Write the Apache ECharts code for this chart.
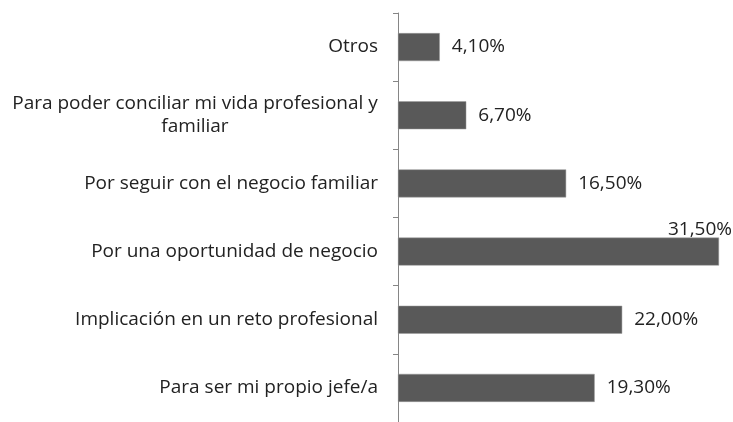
<!DOCTYPE html>
<html>
<head>
<meta charset="utf-8">
<script src="https://cdn.jsdelivr.net/npm/echarts@6/dist/echarts.min.js"></script>
<style>
  html, body { margin: 0; padding: 0; background: #fff; }
  #chart { width: 733px; height: 422px; }
</style>
</head>
<body>
<div id="chart"></div>
<script>
// categories bottom -> top
var categories = [
    'Para ser mi propio jefe/a',
    'Implicación en un reto profesional',
    'Por una oportunidad de negocio',
    'Por seguir con el negocio familiar',
    'Para poder conciliar mi vida profesional y familiar',
    'Otros'
];
var values = [19.3, 22.0, 31.5, 16.5, 6.7, 4.1];

function pct(v) {
    return v.toFixed(2).replace('.', ',') + '%';
}

var chart = echarts.init(document.getElementById('chart'));

var data = values.map(function (v, i) {
    var item = { value: v };
    if (v === 31.5) {
        // this one sits above the bar, against the right edge
        item.label = {
            position: ['100%', 0],
            align: 'right',
            verticalAlign: 'bottom',
            offset: [13, 2]
        };
    }
    return item;
});

var option = {
    animation: false,
    textStyle: { fontFamily: 'Open Sans' },
    grid: {
        left: 398,
        right: 14,
        top: 13,
        height: 412
    },
    xAxis: {
        type: 'value',
        min: 0,
        max: 31.5,
        show: false
    },
    yAxis: {
        type: 'category',
        data: categories,
        axisLine: { show: true, lineStyle: { color: '#868686', width: 1 } },
        axisTick: { show: true, inside: false, length: 5, lineStyle: { color: '#868686', width: 1 } },
        axisLabel: {
            margin: 20,
            fontSize: 19,
            color: '#222',
            fontFamily: 'Open Sans',
            formatter: function (val) {
                if (val.indexOf('conciliar') > 0) {
                    return '{w|Para poder conciliar mi vida profesional y}\n{w|familiar}';
                }
                return val;
            },
            rich: {
                w: { width: 366, align: 'center', fontSize: 19, color: '#222', lineHeight: 23, fontFamily: 'Open Sans' }
            }
        }
    },
    series: [
        {
            type: 'bar',
            data: data,
            barWidth: 28,
            itemStyle: {
                color: '#595959',
                borderColor: '#9a9a9a',
                borderWidth: 0.5
            },
            label: {
                show: true,
                position: 'right',
                distance: 12,
                fontSize: 19,
                color: '#222',
                fontFamily: 'Open Sans',
                formatter: function (p) { return pct(p.value); }
            }
        }
    ]
};

chart.setOption(option);
</script>
</body>
</html>
